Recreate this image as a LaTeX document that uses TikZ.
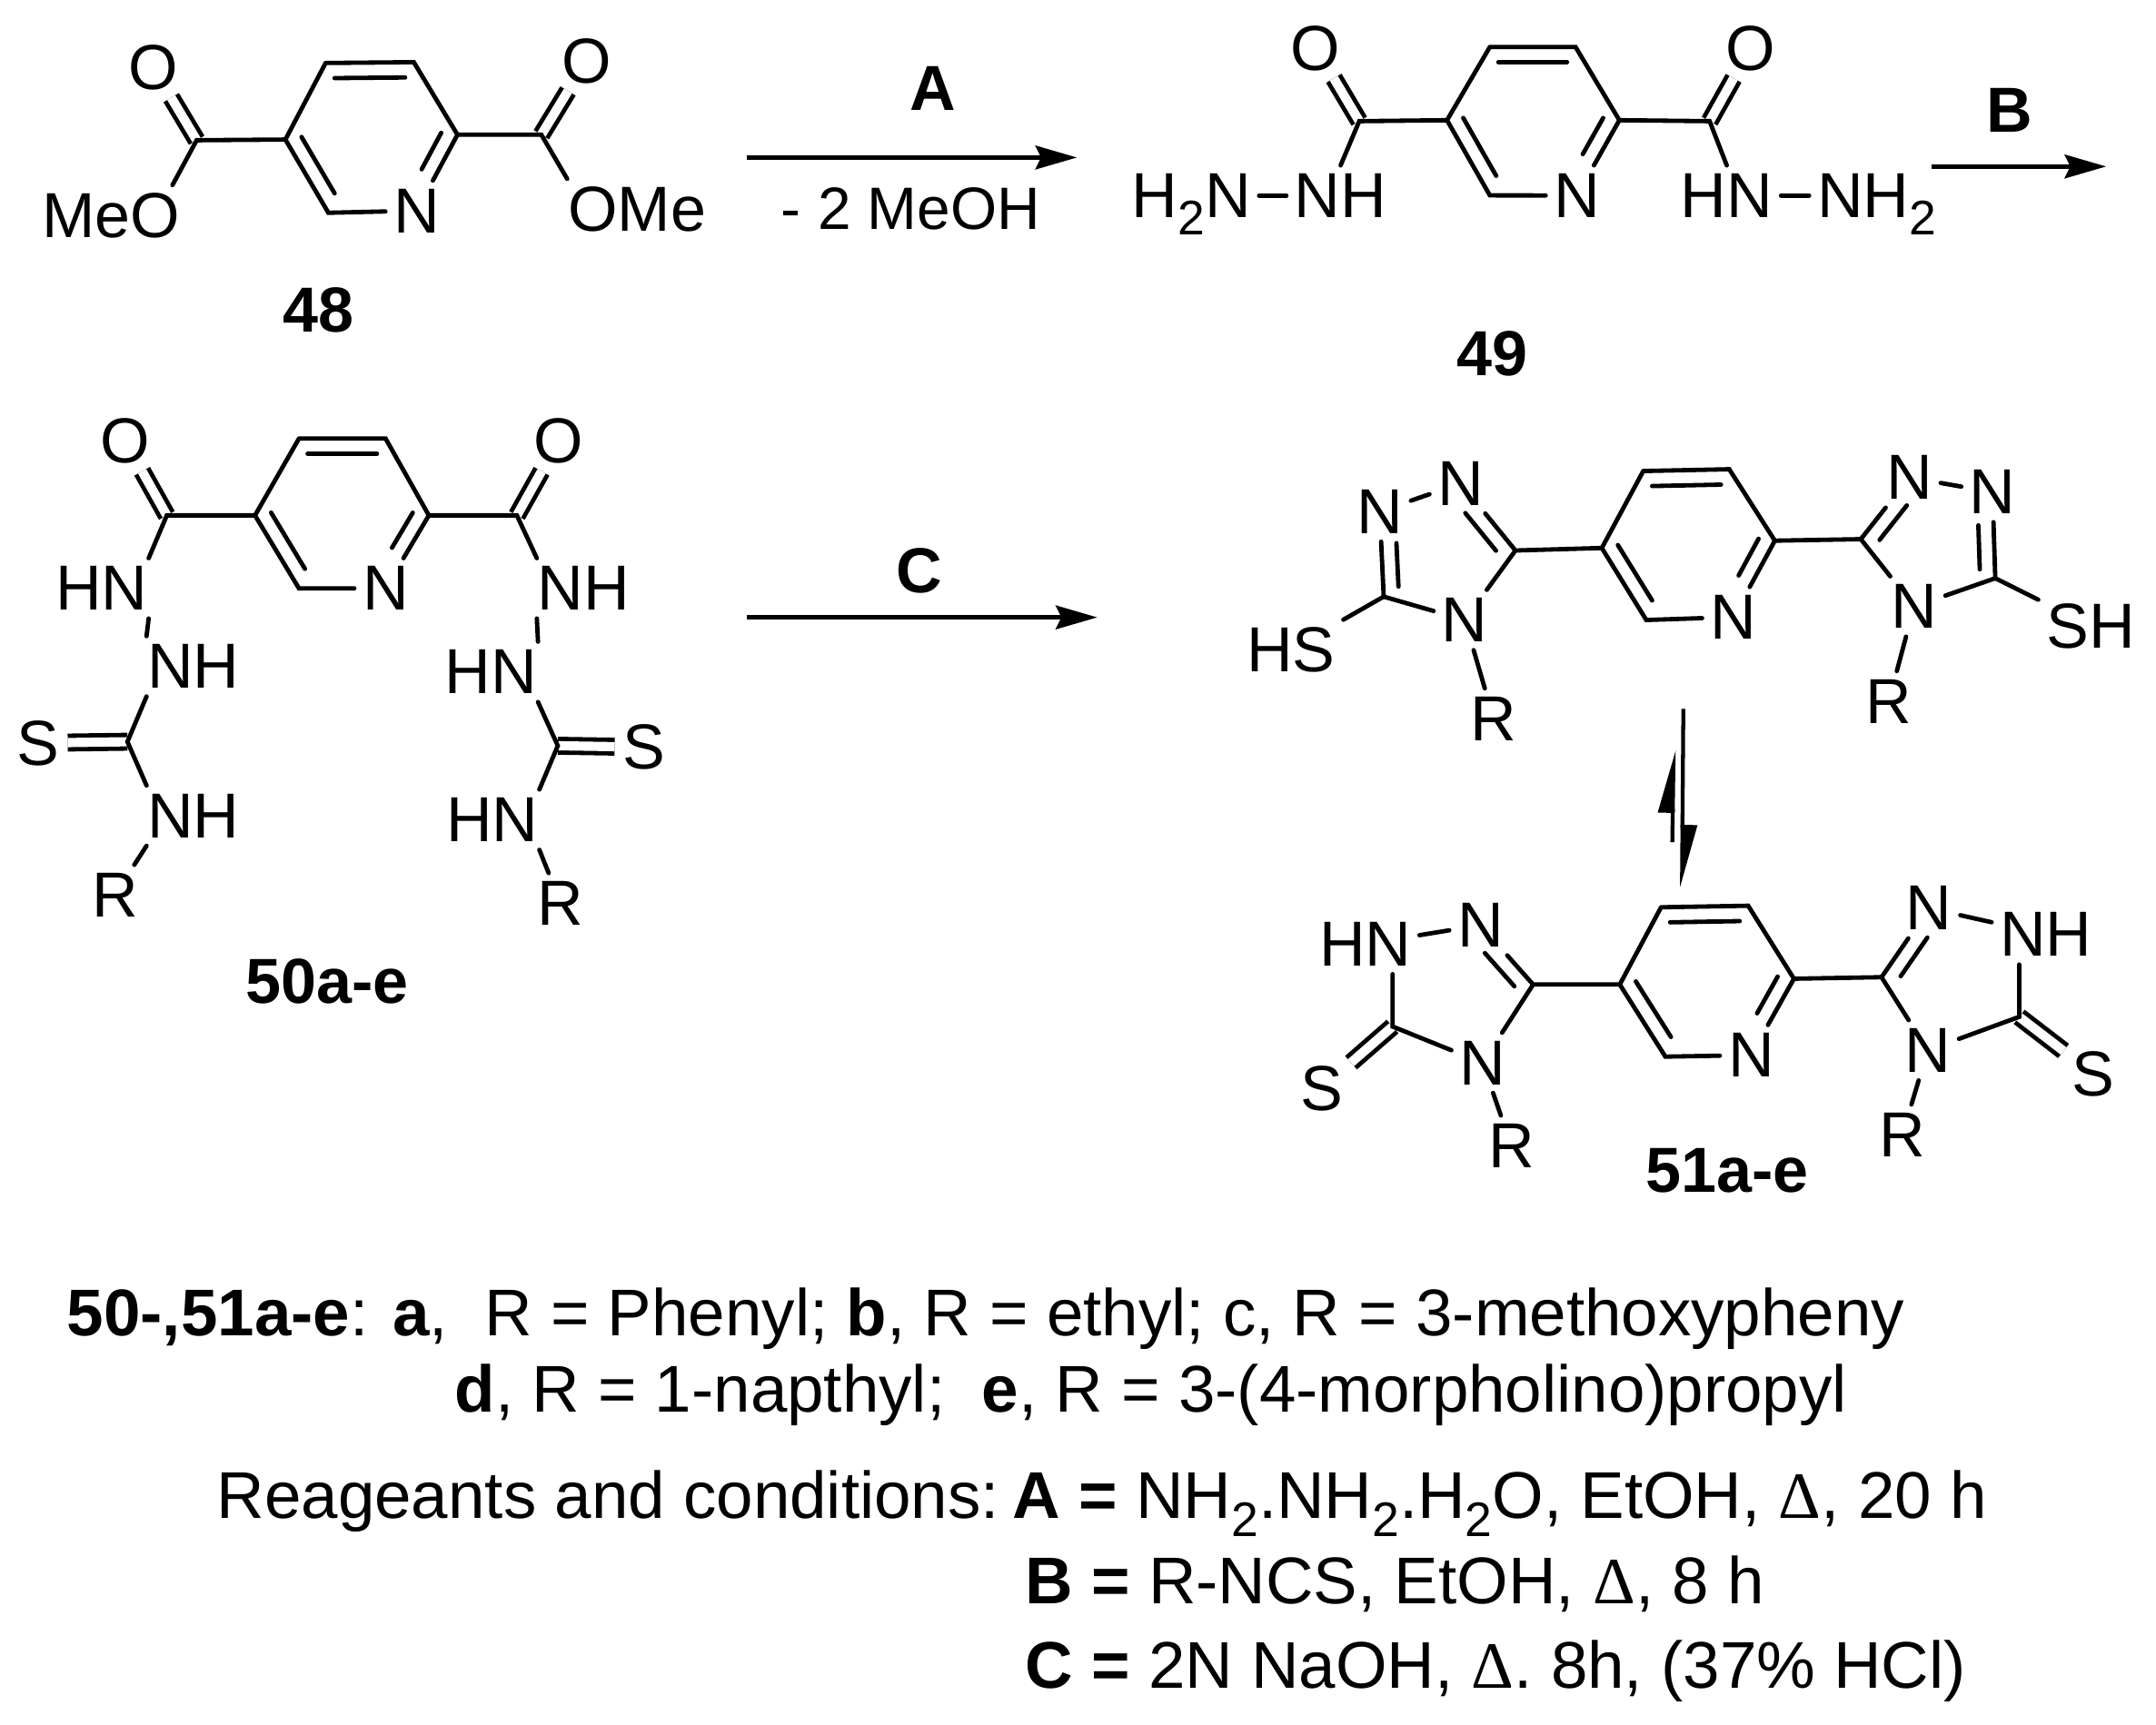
\documentclass[tikz,border=0pt]{standalone}
\usepackage{fontspec}
\setmainfont{Liberation Sans}
\newfontfamily\deltafont{Liberation Serif}
\usetikzlibrary{calc, arrows.meta}
\newcommand{\lowtwo}{\raisebox{-.27em}{\fontsize{10}{10}\selectfont 2}}
\newcommand{\heat}{{\deltafont Δ}}
\newcommand{\ringbond}[4]{\draw[bond]($(#1)!#3!(#2)!.11cm!90:(#2)$)--($(#2)!#4!(#1)!.11cm!-90:(#1)$);}
\newcommand{\pyr}[1]{%
	\draw[bond](#11)--(#12)--(#13)--(#1n)--(#15)--(#16)--(#11);
	\ringbond{#12}{#11}{.1}{.1}
	\ringbond{#16}{#15}{.07}{.16}
	\ringbond{#1n}{#13}{.45}{.07}}
\tikzset{
	bond/.style={line width=.9pt, line cap=round},
	dblbond/.style={bond, double, double distance=1.9pt, line cap=butt},
	atom/.style={font=\fontsize{13.1}{15}\selectfont, inner sep=1.5pt, text depth=0pt},
	chain/.style={atom, inner xsep=0pt},
	cpd/.style={font=\fontsize{13.1}{15}\selectfont\bfseries, inner sep=0pt, text depth=0pt},
	notes/.style={font=\fontsize{13.6}{16}\selectfont, inner sep=0pt, anchor=base west},
	rxn/.style={line width=1pt, -{Stealth[length=.3cm, width=.17cm, inset=.04cm]}},
	eqm/.style={line width=.8pt, -{Stealth[length=.4cm, width=.21cm, inset=0pt, left]}}
}

\begin{document}
\begin{tikzpicture}[x=.01cm, y=-.01cm]
	\useasboundingbox(0, 0) rectangle (1560, 1248.4);
	% 48
	\coordinate(a1) at (235.6, 45.6); \coordinate(a2) at (299.4, 45); \coordinate(a3) at (331, 97.5);
	\coordinate(a5) at (237.6, 154); \coordinate(a6) at (206.5, 101);
	\coordinate(ac1) at (142.3, 101.5); \coordinate(ac2) at (391.7, 97.5);
	\node[atom](an) at (301.5, 152.5){N};
	\node[atom](ao1) at (110.7, 48.6){O};
	\node[atom](ao2) at (424.4, 43.8){O};
	\node[chain](ameo) at (80.2, 156){MeO};
	\node[chain](aome) at (461, 151.5){OMe};
	\node[cpd](alabel) at (230.7, 224){48};
	\pyr{a}
	\draw[dblbond](ac1)--(ao1);
	\draw[dblbond](ac2)--(ao2);
	\draw[bond](a6)--(ac1)--([xshift=-.06cm]ameo.north east);
	\draw[bond](a3)--(ac2)--(aome.north west);
	% step A
	\coordinate(arrA1) at (540.5, 114); \coordinate(arrA2) at (779.3, 114);
	\draw[rxn](arrA1)--(arrA2);
	\node[cpd](stepA) at (675, 64){A};
	\node[atom, font=\fontsize{12.3}{15}\selectfont](lossA) at (659, 151){- 2 MeOH};
	% 49
	\coordinate(b1) at (1078, 34); \coordinate(b2) at (1140, 34); \coordinate(b3) at (1171.7, 87);
	\coordinate(b5) at (1078, 141.4); \coordinate(b6) at (1047, 87);
	\coordinate(bc1) at (983.5, 87.7); \coordinate(bc2) at (1237, 87.7);
	\node[atom](bn) at (1141, 141.5){N};
	\node[atom](bo1) at (952, 34.6){O};
	\node[atom](bo2) at (1266.7, 34.6){O};
	\node[atom](bnh1) at (970, 141.5){NH};
	\node[atom](bnh2) at (862, 141.5){H\lowtwo N};
	\node[atom](bnh3) at (1249.4, 141.5){HN};
	\node[atom](bnh4) at (1358, 141.5){NH\lowtwo};
	\node[cpd](blabel) at (1079.6, 256){49};
	\pyr{b}
	\draw[dblbond](bc1)--(bo1);
	\draw[dblbond](bc2)--(bo2);
	\draw[bond](b6)--(bc1)--(bnh1.north);
	\draw[bond](b3)--(bc2)--(bnh3.north);
	\draw[bond](bnh2)--(bnh1);
	\draw[bond](bnh3)--(bnh4);
	% step B
	\coordinate(arrB1) at (1397.4, 120.5); \coordinate(arrB2) at (1524, 120.5);
	\draw[rxn](arrB1)--(arrB2);
	\node[cpd](stepB) at (1454, 80){B};
	% 50
	\coordinate(c1) at (216.3, 317.4); \coordinate(c2) at (279, 317.4); \coordinate(c3) at (310.3, 373);
	\coordinate(c5) at (216.3, 425.8); \coordinate(c6) at (184.5, 373);
	\coordinate(cc1) at (120.7, 373); \coordinate(cc2) at (374, 373);
	\coordinate(cc3) at (92.2, 536.8); \coordinate(cc4) at (403.6, 539.7);
	\node[atom](cn) at (279, 425.8){N};
	\node[atom](co1) at (90.5, 319){O};
	\node[atom](co2) at (404.2, 319){O};
	\node[chain](cnh1) at (73.6, 425.8){HN};
	\node[chain](cnh2) at (140, 482.2){NH};
	\node[atom](cs1) at (27.7, 537.7){S};
	\node[chain](cnh3) at (140, 590.3){NH};
	\node[atom](cr1) at (83.1, 647.7){R};
	\node[chain](cnh4) at (422.4, 425.8){NH};
	\node[chain](cnh5) at (355.3, 486.2){HN};
	\node[atom](cs2) at (466.1, 540.7){S};
	\node[chain](cnh6) at (356.3, 593.2){HN};
	\node[atom](cr2) at (405.7, 653.7){R};
	\node[cpd](clabel) at (236.5, 710){50a-e};
	\pyr{c}
	\draw[dblbond](cc1)--(co1);
	\draw[dblbond](cc2)--(co2);
	\draw[dblbond](cc3)--(cs1);
	\draw[dblbond](cc4)--(cs2);
	\draw[bond](c6)--(cc1)--(cnh1.north east);
	\draw[bond](c3)--(cc2)--(cnh4.north west);
	\draw[bond](cnh1.south east)--(cnh2.north west);
	\draw[bond](cnh4.south west)--(cnh5.north east);
	\draw[bond](cnh2.south west)--(cc3)--(cnh3.north west);
	\draw[bond](cnh5.south east)--(cc4)--(cnh6.north east);
	\draw[bond](cnh3.south west)--(cr1);
	\draw[bond](cnh6.south east)--(cr2);
	% step C
	\coordinate(arrC1) at (540.3, 446.8); \coordinate(arrC2) at (794, 446.8);
	\draw[rxn](arrC1)--(arrC2);
	\node[cpd](stepC) at (665, 413){C};
	% 51 thiol
	\coordinate(d1) at (1189, 340.9); \coordinate(d2) at (1251.2, 339.6); \coordinate(d3) at (1284.2, 391.3);
	\coordinate(d5) at (1191.2, 448.7); \coordinate(d6) at (1159, 396.6);
	\coordinate(dc1) at (1096.5, 398.4); \coordinate(dc2) at (1001.2, 431.8);
	\coordinate(dc3) at (1346.4, 390.2); \coordinate(dc4) at (1443.7, 418.5);
	\node[atom](dn) at (1254.2, 446.6){N};
	\node[atom](dn1) at (1056.9, 349.8){N};
	\node[atom](dn2) at (998.3, 370.2){N};
	\node[atom](dn3) at (1059.9, 448.7){N};
	\node[atom](dhs) at (934, 470.2){HS};
	\node[atom](dr1) at (1080.7, 520){R};
	\node[atom](dn4) at (1381.6, 345.6){N};
	\node[atom](dn5) at (1441.7, 356.1){N};
	\node[atom](dn6) at (1385, 438.9){N};
	\node[atom](dsh) at (1512.8, 452.9){SH};
	\node[atom](dr2) at (1366.6, 507.5){R};
	\pyr{d}
	\draw[bond](d6)--(dc1)--(dn1);
	\draw[bond](dn1)--(dn2)--(dc2)--(dn3)--(dc1);
	\ringbond{dc1}{dn1}{.14}{.3}
	\ringbond{dn2}{dc2}{.38}{.11}
	\draw[bond](dc2)--(dhs);
	\draw[bond](dn3)--(dr1);
	\draw[bond](d3)--(dc3)--(dn4)--(dn5)--(dc4)--(dn6)--(dc3);
	\ringbond{dn4}{dc3}{.3}{.14}
	\ringbond{dc4}{dn5}{.11}{.38}
	\draw[bond](dc4)--(dsh);
	\draw[bond](dn6)--(dr2);
	% equilibrium
	\coordinate(eqm1) at (1218, 513); \coordinate(eqm2) at (1217, 642.4);
	\coordinate(eqm3) at (1210, 609.5); \coordinate(eqm4) at (1211, 542.9);
	\draw[eqm](eqm1)--(eqm2);
	\draw[eqm](eqm3)--(eqm4);
	% 51 thione
	\coordinate(e1) at (1201.9, 656.6); \coordinate(e2) at (1264.9, 655.5); \coordinate(e3) at (1298, 708.3);
	\coordinate(e5) at (1205, 764.7); \coordinate(e6) at (1172, 712.5);
	\coordinate(ec1) at (1109.3, 712.5); \coordinate(ec2) at (1007.6, 742.9);
	\coordinate(ec3) at (1361.4, 707.2); \coordinate(ec4) at (1461, 735.9);
	\node[atom](en) at (1267, 763.6){N};
	\node[atom](en1) at (1071.2, 669.6){N};
	\node[atom](enh1) at (987.8, 683.2){HN};
	\node[atom](en2) at (1072.8, 769.2){N};
	\node[atom](es1) at (956.2, 787.6){S};
	\node[atom](er1) at (1093.5, 829.1){R};
	\node[atom](en3) at (1395.8, 657.3){N};
	\node[atom](enh2) at (1480.3, 676.2){NH};
	\node[atom](en4) at (1394.8, 760.1){N};
	\node[atom](es2) at (1514.4, 777){S};
	\node[atom](er2) at (1376.5, 821.1){R};
	\node[cpd](elabel) at (1249.6, 847){51a-e};
	\pyr{e}
	\draw[dblbond](ec2)--(es1);
	\draw[dblbond](ec4)--(es2);
	\draw[bond](e6)--(ec1)--(en1)--(enh1);
	\draw[bond](ec1)--(en2)--(ec2)--(ec2 |- enh1.south);
	\ringbond{ec1}{en1}{.14}{.3}
	\draw[bond](en2)--(er1);
	\draw[bond](e3)--(ec3)--(en3)--(enh2);
	\draw[bond](ec3)--(en4)--(ec4)--(ec4 |- enh2.south);
	\ringbond{en3}{ec3}{.3}{.14}
	\draw[bond](en4)--(er2);
	% substituents and conditions
	\node[notes](note1) at (47.8, 966.5){\textbf{50-,51a-e}: \textbf{a},\ \ R = Phenyl; \textbf{b}, R = ethyl; c, R = 3-methoxypheny};
	\node[notes](note2) at (328.4, 1022){\textbf{d}, R = 1-napthyl;\ \ \textbf{e}, R = 3-(4-morpholino)propyl};
	\node[notes](note3) at (156.2, 1099){Reageants and conditions:\hspace{-2.3pt} \textbf{A =} NH\lowtwo.NH\lowtwo.H\lowtwo O, EtOH, \heat, 20 h};
	\node[notes](note4) at (741.3, 1160.5){\textbf{B =} R-NCS, EtOH, \heat, 8 h};
	\node[notes](note5) at (741.3, 1221.8){\textbf{C =} 2N NaOH, \heat. 8h, (37\% HCl)};
\end{tikzpicture}
\end{document}
